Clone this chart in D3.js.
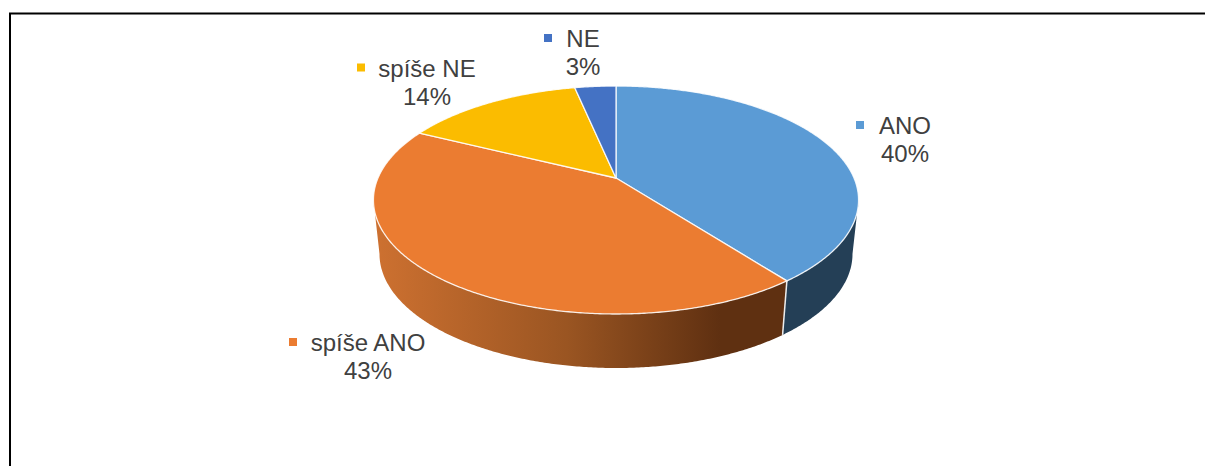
<!DOCTYPE html>
<html><head><meta charset="utf-8">
<script src="https://cdn.jsdelivr.net/npm/d3@7"></script>
<style>html,body{margin:0;padding:0;background:#fff;overflow:hidden}svg{display:block}text{font-family:"Liberation Sans",Arial,sans-serif;fill:#404040;font-size:24px;text-anchor:middle}</style>
</head><body><svg id="c" width="1205" height="466"></svg>
<script>
const categories = ["ANO", "spíše ANO", "spíše NE", "NE"];
const percentValues = [39.6, 42.7, 14.4, 3.3];
const topColors = ["#5B9BD5", "#EB7C31", "#FBBC00", "#4472C4"];
const labelCentres = [[905, 134], [368, 351], [427, 76.5], [583, 47]];
const markerOffsets = [-49, -79, -70, -39];

const svg = d3.select("#c");
// frame (open at right and bottom, cropped in the source)
svg.append("path").attr("d", "M10,466V13.5H1205").attr("fill", "none").attr("stroke", "#000").attr("stroke-width", 2);

// perspective disc: unit circle -> screen
const k = 0.193;
const sx = d3.scaleLinear().domain([-1, 1]).range([616 - 238, 616 + 238]);
const sy = d3.scaleLinear().domain([-1, 1]).range([178 - 109.75, 178 + 109.75]);
function project(a, drop, shrink) {
  const u = Math.sin(a), v = -Math.cos(a), d = 1 - k * v;
  const x = 616 + (sx(u / d) - 616) * shrink;
  const y = sy(v / d) + drop;
  return [x, y];
}
const pie = d3.pie().sort(null).startAngle(0).endAngle(2 * Math.PI);
const arcs = pie(percentValues);
const line = d3.line();
const sample = (a0, a1) => { const n = Math.max(2, Math.ceil((a1 - a0) * 120)); return d3.range(n + 1).map(i => a0 + (a1 - a0) * i / n); };

const defs = svg.append("defs");
const g = defs.append("linearGradient").attr("id", "wallOrange").attr("gradientUnits", "userSpaceOnUse")
  .attr("x1", 380).attr("x2", 720).attr("y1", 0).attr("y2", 0);
[[0, "#CC7030"], [0.55, "#9A5522"], [1, "#5F3011"]].forEach(s => g.append("stop").attr("offset", s[0]).attr("stop-color", s[1]));

// visible side walls, clipped to the front part of the rim
const frontStart = Math.acos(-k), frontEnd = 2 * Math.PI - frontStart;
const wallFill = ["#243F56", "url(#wallOrange)"];
arcs.slice(0, 2).forEach((d, i) => {
  const a0 = Math.max(d.startAngle, frontStart), a1 = Math.min(d.endAngle, frontEnd);
  const as = sample(a0, a1);
  const pts = as.map(a => project(a, 0, 1)).concat(as.slice().reverse().map(a => project(a, 54, 0.975)));
  svg.append("path").attr("d", line(pts) + "Z").attr("fill", wallFill[i]);
});
// rim break between walls
const br = arcs[0].endAngle;
svg.append("path").attr("d", line([project(br, 0, 1), project(br, 54, 0.975)])).attr("stroke", "#EDEDED").attr("stroke-width", 1.5).attr("fill", "none");

// top face
arcs.forEach((d, i) => {
  const pts = [[616, 178]].concat(sample(d.startAngle, d.endAngle).map(a => project(a, 0, 1)));
  svg.append("path").attr("d", line(pts) + "Z").attr("fill", topColors[i]).attr("stroke", "#fff").attr("stroke-opacity", 0.85).attr("stroke-width", 1.3).attr("stroke-linejoin", "round");
});

// labels
categories.forEach((c, i) => {
  const [x, y] = labelCentres[i];
  svg.append("text").attr("x", x).attr("y", y).text(c);
  svg.append("text").attr("x", x).attr("y", y + 28).text(Math.round(percentValues[i]) + "%");
  svg.append("rect").attr("x", x + markerOffsets[i]).attr("y", y - 13).attr("width", 8).attr("height", 8).attr("fill", topColors[i]);
});
</script></body></html>
